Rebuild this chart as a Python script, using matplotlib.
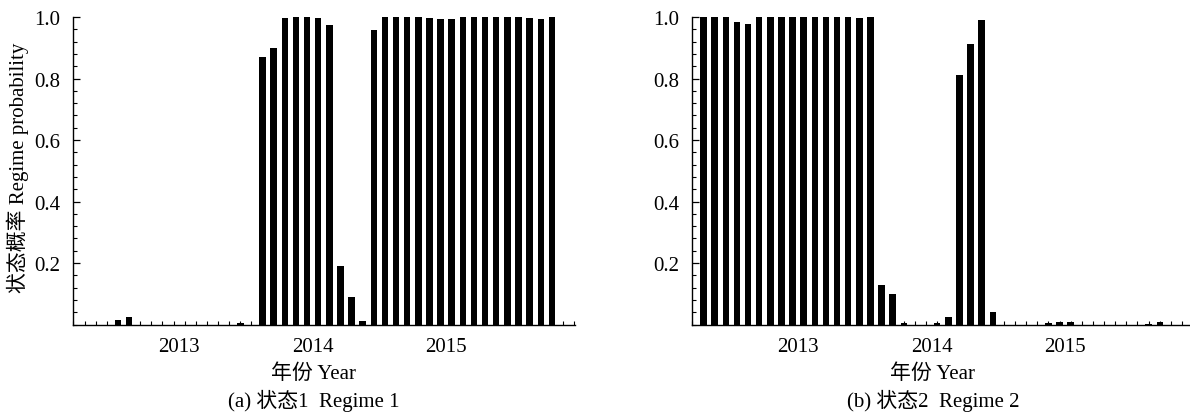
import numpy as np
import pandas as pd
import matplotlib
matplotlib.use("Agg")
import matplotlib.pyplot as plt
from matplotlib.ticker import FixedLocator, MultipleLocator, NullFormatter

plt.rcParams['font.family'] = ['Liberation Serif', 'Noto Sans CJK SC']
plt.rcParams['font.size'] = 15

# monthly smoothed regime probabilities, Apr 2012 .. Oct 2015
months = pd.period_range('2012-04', '2015-10', freq='M')

regime1 = [0.0, 0.0, 0.0, 0.016, 0.023, 0.0, 0.0, 0.0, 0.0, 0.0,
           0.0, 0.0, 0.0, 0.0, 0.004, 0.0, 0.870, 0.900, 0.996, 1.0,
           1.0, 0.996, 0.975, 0.190, 0.088, 0.010, 0.958, 1.0, 1.0, 1.0,
           1.0, 0.996, 0.993, 0.992, 1.0, 1.0, 1.0, 1.0, 1.0, 1.0,
           0.997, 0.993, 1.0]

regime2 = [1.0, 1.0, 1.0, 0.984, 0.977, 1.0, 1.0, 1.0, 1.0, 1.0,
           1.0, 1.0, 1.0, 1.0, 0.996, 1.0, 0.130, 0.100, 0.004, 0.0,
           0.0, 0.004, 0.025, 0.810, 0.912, 0.990, 0.042, 0.0, 0.0, 0.0,
           0.0, 0.004, 0.007, 0.008, 0.0, 0.0, 0.0, 0.0, 0.0, 0.0,
           0.003, 0.007, 0.0]

years = [2013, 2014, 2015]
ytick_vals = [0.2, 0.4, 0.6, 0.8, 1.0]

panels = [
    (regime1, "(a) 状态1  Regime 1"),
    (regime2, "(b) 状态2  Regime 2"),
]

# bars sit in the middle of each month
x = np.array([m.year + (m.month - 0.5) / 12 for m in months])

W, H = 1190, 414
fig = plt.figure(figsize=(W / 100, H / 100), dpi=100)

ax_left = [73, 692]
ax_w, ax_top, ax_bot = 502, 18, 325.5

for (vals, caption), left in zip(panels, ax_left):
    ax = fig.add_axes([left / W, 1 - ax_bot / H, ax_w / W, (ax_bot - ax_top) / H])
    ax.bar(x, vals, width=0.58 / 12, color='black', linewidth=0)

    ax.set_xlim(2012.205, 2015.965)
    ax.set_ylim(0, 1.0)

    for side in ('top', 'right'):
        ax.spines[side].set_visible(False)
    for side in ('left', 'bottom'):
        ax.spines[side].set_linewidth(1.0)

    ax.xaxis.set_major_locator(FixedLocator(years))
    ax.set_xticklabels([str(y) for y in years])
    ax.xaxis.set_minor_locator(MultipleLocator(1 / 12, offset=1 / 24))
    ax.xaxis.set_minor_formatter(NullFormatter())
    ax.tick_params(axis='x', which='major', length=0, pad=9)
    ax.tick_params(axis='x', which='minor', direction='in', length=3, width=0.8)

    ax.yaxis.set_major_locator(FixedLocator(ytick_vals))
    ax.set_yticklabels([f"{v:.1f}" for v in ytick_vals])
    ax.yaxis.set_minor_locator(MultipleLocator(0.04))
    ax.tick_params(axis='y', which='major', direction='in', length=5, width=0.9, pad=9)
    ax.tick_params(axis='y', which='minor', direction='in', length=3, width=0.8)

    cx = left + ax_w * 0.48
    fig.text(cx / W, 1 - 374 / H, "年份 Year", ha='center', va='center')
    fig.text(cx / W, 1 - 401 / H, caption, ha='center', va='center')

fig.text(18 / W, 1 - 168 / H, "状态概率 Regime probability",
         rotation=90, ha='center', va='center')

fig.savefig("out.png", dpi=100, facecolor='white')
